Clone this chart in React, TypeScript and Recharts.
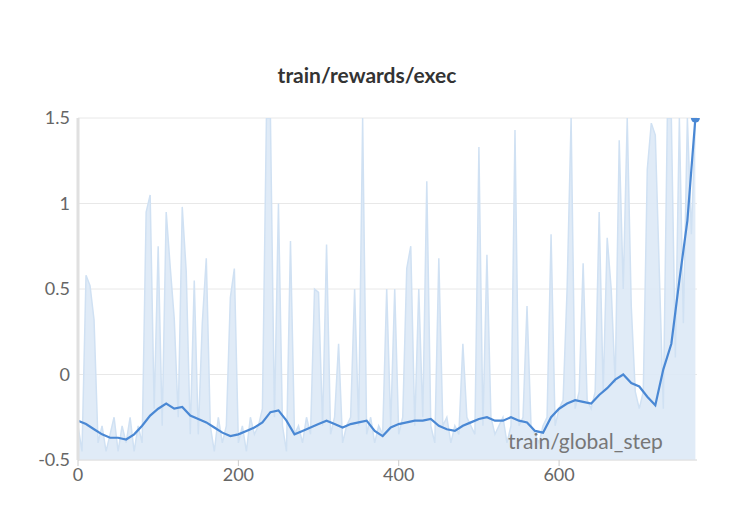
import { ComposedChart, Area, Line, XAxis, YAxis, CartesianGrid } from 'recharts';

// raw reward, one value every 5 steps
const rawValues = [
  -0.3, -0.45, 0.58, 0.52, 0.32, -0.4, -0.3, -0.45, -0.35, -0.25,
  -0.45, -0.3, -0.4, -0.25, -0.45, -0.3, -0.4, 0.95, 1.05, -0.2,
  0.75, -0.3, 0.95, 0.63, 0.33, -0.25, 0.98, 0.6, -0.35, 0.55,
  -0.35, 0.3, 0.68, -0.3, -0.45, -0.25, -0.4, -0.3, 0.45, 0.62,
  -0.4, -0.3, -0.45, -0.25, -0.35, -0.3, -0.2, 1.5, 1.5, -0.25,
  1.0, -0.3, -0.45, 0.78, -0.35, -0.3, -0.4, -0.25, -0.35, 0.5,
  0.48, -0.3, 0.76, -0.35, -0.25, 0.18, -0.4, -0.3, -0.25, 0.5,
  -0.3, 1.5, -0.35, -0.25, -0.4, -0.3, -0.35, 0.5, -0.3, 0.5,
  -0.35, -0.25, 0.62, 0.75, -0.3, 0.5, -0.25, 1.13, -0.3, -0.4,
  0.68, -0.3, -0.25, -0.4, -0.3, -0.35, 0.18, -0.25, -0.3, -0.35,
  1.33, -0.3, 0.7, -0.25, -0.35, -0.3, -0.25, -0.4, -0.3, 1.43,
  -0.3, -0.25, 0.4, -0.3, -0.35, -0.4, -0.3, -0.25, 0.82, -0.3,
  -0.2, -0.15, 0.5, 1.5, -0.2, -0.1, 0.65, -0.15, -0.2, -0.1,
  0.95, -0.1, 0.8, 0.5, -0.05, 1.37, 0.5, 1.5, 0.4, -0.1,
  -0.2, -0.1, 1.2, 1.47, 1.4, 0.6, -0.2, 1.5, 1.5, 0.1,
  1.5, 0.3, 1.5, 0.82, 1.5,
];

// smoothed reward, one value every 10 steps
const smoothValues = [
  -0.27, -0.29, -0.32, -0.35, -0.37, -0.37, -0.38, -0.35, -0.3, -0.24,
  -0.2, -0.17, -0.2, -0.19, -0.24, -0.26, -0.28, -0.31, -0.34, -0.36,
  -0.35, -0.33, -0.31, -0.28, -0.22, -0.21, -0.27, -0.35, -0.33, -0.31,
  -0.29, -0.27, -0.29, -0.31, -0.29, -0.28, -0.27, -0.33, -0.36, -0.31,
  -0.29, -0.28, -0.27, -0.27, -0.26, -0.3, -0.32, -0.33, -0.3, -0.28,
  -0.26, -0.25, -0.27, -0.27, -0.25, -0.27, -0.28, -0.33, -0.34, -0.25,
  -0.2, -0.17, -0.15, -0.16, -0.17, -0.12, -0.08, -0.03, 0, -0.05,
  -0.07, -0.13, -0.18, 0.03, 0.18, 0.55, 0.9, 1.5,
];

const yTicks = [-0.5, 0, 0.5, 1, 1.5];
const xTicks = [0, 200, 400, 600];

const data = rawValues.map((raw, i) => {
  const step = i * 5;
  return { step, raw, smooth: step % 10 === 0 ? smoothValues[step / 10] : undefined };
});

const font = 'Lato, "Open Sans", sans-serif';

const EndDot = (props: any) => {
  const { cx, cy, index } = props;
  if (index !== data.length - 1 || cy == null) return null;
  return <circle cx={cx} cy={cy} r={4.5} fill="#4a88d4" />;
};

export default function App() {
  return (
    <div style={{ position: 'absolute', left: 0, top: 0, width: 734, height: 530, background: '#fff', fontFamily: font }}>
      <div style={{ position: 'absolute', top: 62, width: 734, textAlign: 'center', fontSize: 21, fontWeight: 700, color: '#333' }}>
        train/rewards/exec
      </div>
      <ComposedChart
        width={734}
        height={530}
        data={data}
        margin={{ top: 118, right: 37, bottom: 30, left: 18 }}
      >
        <CartesianGrid vertical={false} stroke="#e8e8e8" />
        <XAxis
          dataKey="step"
          type="number"
          domain={[0, 772]}
          ticks={xTicks}
          tick={{ fill: '#666', fontSize: 18, fontFamily: font }}
          axisLine={{ stroke: '#e0e0e0' }}
          tickLine={{ stroke: '#ccc' }}
          height={40}
        />
        <YAxis
          type="number"
          domain={[-0.5, 1.5]}
          ticks={yTicks}
          allowDataOverflow
          tick={{ fill: '#666', fontSize: 18, fontFamily: font }}
          axisLine={{ stroke: '#e0e0e0', strokeWidth: 3 }}
          tickLine={false}
          width={60}
        />
        <Area
          dataKey="raw"
          type="linear"
          baseValue={-0.5}
          stroke="#d0e1f3"
          strokeWidth={1.5}
          fill="#dde9f6"
          fillOpacity={0.9}
          isAnimationActive={false}
        />
        <Line
          dataKey="smooth"
          type="linear"
          connectNulls
          stroke="#4a88d4"
          strokeWidth={2.2}
          dot={<EndDot />}
          activeDot={false}
          isAnimationActive={false}
        />
      </ComposedChart>
      <div style={{ position: 'absolute', left: 508, top: 428, fontSize: 21, color: '#777' }}>train/global_step</div>
    </div>
  );
}
